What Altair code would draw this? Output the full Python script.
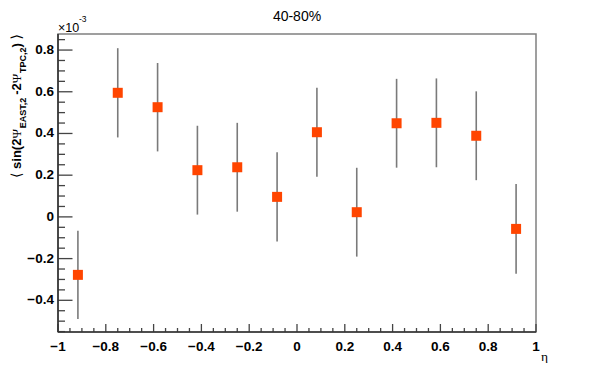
import altair as alt
import numpy as np
import pandas as pd

# ---- data (values in units of 1e-3) ----
eta = [-0.9167, -0.75, -0.5833, -0.4167, -0.25, -0.0833,
       0.0833, 0.25, 0.4167, 0.5833, 0.75, 0.9167]
val = [-0.278, 0.595, 0.526, 0.224, 0.238, 0.096,
       0.406, 0.0225, 0.449, 0.451, 0.389, -0.0576]
err = [0.212, 0.214, 0.212, 0.213, 0.213, 0.214,
       0.213, 0.213, 0.213, 0.213, 0.213, 0.215]

x_tick_labels = [-1, -0.8, -0.6, -0.4, -0.2, 0, 0.2, 0.4, 0.6, 0.8, 1]
y_tick_labels = [-0.4, -0.2, 0, 0.2, 0.4, 0.6, 0.8]

x_minor = [round(k * 0.05, 3) for k in range(-19, 20) if k % 4 != 0]
y_minor = [round(k * 0.05, 3) for k in range(-11, 18) if k % 4 != 0]

df = pd.DataFrame({
    "eta": eta,
    "val": val,
    "lo": [v - e for v, e in zip(val, err)],
    "hi": [v + e for v, e in zip(val, err)],
})

W, H = 478, 298
xs = alt.Scale(domain=[-1, 1], nice=False, zero=False)
ys = alt.Scale(domain=[-0.552, 0.877], nice=False, zero=False)

base = alt.Chart(df)

err_layer = base.mark_rule(color="#7a7a7a", strokeWidth=1.6).encode(
    x=alt.X("eta:Q", scale=xs, axis=None),
    y=alt.Y("lo:Q", scale=ys, axis=None),
    y2="hi:Q",
)

pts = base.mark_square(size=100, color="#ff4500", opacity=1).encode(
    x=alt.X("eta:Q", scale=xs, axis=None),
    y=alt.Y("val:Q", scale=ys, axis=None),
)

TICK = "#444444"
one = pd.DataFrame({"a": [0]})


def yticks(vals, length):
    return alt.Chart(pd.DataFrame({"v": vals})).mark_rule(color=TICK, strokeWidth=1.3).encode(
        y=alt.Y("v:Q", scale=ys, axis=None),
        x=alt.value(0), x2=alt.value(length))


def xticks(vals, length):
    return alt.Chart(pd.DataFrame({"v": vals})).mark_rule(color=TICK, strokeWidth=1.3).encode(
        x=alt.X("v:Q", scale=xs, axis=None),
        y=alt.value(H), y2=alt.value(H - length))


LBL = 13.5
ylabels = alt.Chart(pd.DataFrame({"v": y_tick_labels})).mark_text(
    font="Liberation Sans", fontWeight="bold", fontSize=LBL, color="black",
    align="right", baseline="middle").encode(
    y=alt.Y("v:Q", scale=ys, axis=None),
    x=alt.value(-4),
    text=alt.Text("v:Q", format="~g"))

xlabels = alt.Chart(pd.DataFrame({"v": x_tick_labels})).mark_text(
    font="Liberation Sans", fontWeight="bold", fontSize=LBL, color="black",
    align="center", baseline="top").encode(
    x=alt.X("v:Q", scale=xs, axis=None),
    y=alt.value(H + 8),
    text=alt.Text("v:Q", format="~g"))

# axis lines (left and bottom, dark)
left_line = alt.Chart(one).mark_rule(color="#333333", strokeWidth=1.6).encode(
    x=alt.value(0), y=alt.value(0), y2=alt.value(H))
bottom_line = alt.Chart(one).mark_rule(color="#333333", strokeWidth=1.6).encode(
    y=alt.value(H), x=alt.value(0), x2=alt.value(W))


def txt(s, x, y, size, weight="normal", font="Liberation Sans", angle=0,
        align="left", baseline="alphabetic"):
    return alt.Chart(one).mark_text(
        text=s, fontSize=size, fontWeight=weight, font=font, angle=angle,
        align=align, baseline=baseline, color="black").encode(
        x=alt.value(x), y=alt.value(y))


# rotated y-axis title built from pieces (main text + subscripts)
M, S = 13, 9
XB, XS = -37.5, -32.5
pieces = [
    ("⟨", "DejaVu Sans", "normal", M + 1, XB, 0.39),
    (" ", "Liberation Sans", "bold", M, XB, 0.278),
    ("sin(2", "Liberation Sans", "bold", M, XB, 2.334),
    ("Ψ", "Liberation Serif", "normal", M, XB, 0.79),
    ("EAST,2", "Liberation Sans", "bold", S, XS, 3.501),
    (" ", "Liberation Sans", "bold", 7, XB, 0.278),
    ("-2", "Liberation Sans", "bold", M, XB, 0.889),
    ("Ψ", "Liberation Serif", "normal", M, XB, 0.79),
    ("TPC,2", "Liberation Sans", "bold", S, XS, 2.834),
    (")", "Liberation Sans", "bold", M, XB, 0.333),
    (" ", "Liberation Sans", "bold", M, XB, 0.278),
    ("⟩", "DejaVu Sans", "normal", M + 1, XB, 0.39),
]
ytitle = []
ypos = 144.0
for s, f, wgt, sz, xo, wem in pieces:
    if s.strip():
        ytitle.append(txt(s, xo, ypos, sz, weight=wgt, font=f, angle=270))
    ypos -= wem * sz

texts = [
    txt("40-80%", W / 2, -13, 14, align="center"),
    txt("×10", 0, -2, 12.5),
    txt("-3", 21, -12, 8.5),
    txt("η", W + 5, 327, 13.5, font="Liberation Serif", align="left"),
] + ytitle

chart = alt.layer(
    err_layer, pts,
    yticks(y_tick_labels, 14.5), yticks(y_minor, 7),
    xticks(x_tick_labels, 8), xticks(x_minor, 4),
    left_line, bottom_line, ylabels, xlabels,
    *texts,
).properties(
    width=W, height=H,
    padding={"left": 50, "top": 26, "right": 49, "bottom": 31},
    autosize=alt.AutoSizeParams(type="none"),
).configure_view(
    stroke="#808080", strokeWidth=1.5
)

chart.save("out.html", embed_options={"renderer": "svg", "actions": False})
